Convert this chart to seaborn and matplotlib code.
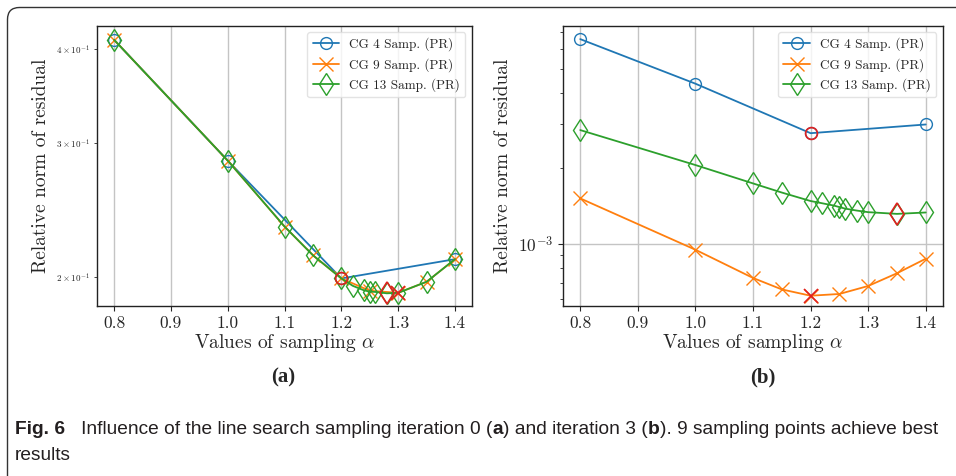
import matplotlib
matplotlib.use("Agg")
import matplotlib.pyplot as plt
import numpy as np
import pandas as pd
import seaborn as sns
from matplotlib.patches import FancyBboxPatch

# ===== Data =====
alpha_4 = [0.8, 1.0, 1.2, 1.4]
alpha_9 = [0.8, 1.0, 1.1, 1.15, 1.2, 1.25, 1.3, 1.35, 1.4]
alpha_13 = [0.8, 1.0, 1.1, 1.15, 1.2, 1.22, 1.24, 1.25, 1.26, 1.28, 1.3, 1.35, 1.4]

# (a) iteration 0
res_a_4 = [0.411, 0.2847, 0.199, 0.211]
res_a_9 = [0.411, 0.2847, 0.233, 0.2135, 0.199, 0.1917, 0.1905, 0.197, 0.211]
res_a_13 = [0.411, 0.2847, 0.233, 0.2135, 0.199, 0.1946, 0.1919, 0.1912, 0.191,
            0.1902, 0.1905, 0.197, 0.211]

# (b) iteration 3
res_b_4 = [6.55e-3, 4.35e-3, 2.76e-3, 2.99e-3]
res_b_9 = [1.516e-3, 0.946e-3, 0.730e-3, 0.657e-3, 0.620e-3, 0.630e-3, 0.678e-3,
           0.762e-3, 0.871e-3]
res_b_13 = [2.84e-3, 2.06e-3, 1.74e-3, 1.60e-3, 1.48e-3, 1.45e-3, 1.42e-3, 1.40e-3,
            1.38e-3, 1.356e-3, 1.336e-3, 1.315e-3, 1.332e-3]

labels = ["CG 4 Samp. (PR)", "CG 9 Samp. (PR)", "CG 13 Samp. (PR)"]
xtick_vals = [0.8, 0.9, 1.0, 1.1, 1.2, 1.3, 1.4]

# ===== Style =====
sns.set_theme(style="ticks")
plt.rcParams["font.family"] = ["cmr10", "DejaVu Serif"]
plt.rcParams["mathtext.fontset"] = "cm"
plt.rcParams["axes.formatter.use_mathtext"] = True
plt.rcParams["axes.unicode_minus"] = False

colors = ["#1f77b4", "#ff7f0e", "#2ca02c"]
markers = ["o", "x", "d"]
msizes = [8.5, 9.5, 11.5]
red = "#e0201f"

fig = plt.figure(figsize=(9.56, 4.76), dpi=100)
ax_a = fig.add_axes([0.1015, 0.3571, 0.3923, 0.5889])
ax_b = fig.add_axes([0.5889, 0.3571, 0.3975, 0.5889])


def draw_panel(ax, series, ylim):
    for (xs, ys), lab, col, mk, ms in zip(series, labels, colors, markers, msizes):
        df = pd.DataFrame({"alpha": xs, "res": ys})
        sns.lineplot(data=df, x="alpha", y="res", ax=ax, color=col, marker=mk,
                     markersize=ms, fillstyle="none", markeredgecolor=col,
                     markeredgewidth=1.0, linewidth=1.3, label=lab)
    # best point of each series in red
    for (xs, ys), mk, ms in zip(series, markers, msizes):
        i = int(np.argmin(ys))
        ax.plot([xs[i]], [ys[i]], marker=mk, markersize=ms, fillstyle="none",
                markeredgecolor=red, markeredgewidth=1.2, linestyle="none", zorder=5)
    ax.set_yscale("log")
    ax.set_xlim(0.77, 1.43)
    ax.set_ylim(*ylim)
    ax.set_xticks(xtick_vals)
    ax.set_xticklabels([f"{v:.1f}" for v in xtick_vals])
    ax.grid(True, which="major", color="#c4c4c4", linewidth=1.0)
    ax.set_axisbelow(True)
    ax.set_xlabel(r"Values of sampling $\alpha$", fontsize=14, labelpad=1)
    ax.set_ylabel("Relative norm of residual", fontsize=14)
    ax.tick_params(axis="x", labelsize=12.5, length=3.5, width=0.8)
    ax.tick_params(axis="y", which="major", labelsize=12.5, length=3.5, width=0.8)
    ax.tick_params(axis="y", which="minor", labelsize=6.5, length=2, width=0.6)
    for sp in ax.spines.values():
        sp.set_color("#222222")
        sp.set_linewidth(1.0)
    ax.legend(loc="upper right", fontsize=9.5, frameon=True, edgecolor="#dddddd",
              handlelength=2.0)


draw_panel(ax_a, [(alpha_4, res_a_4), (alpha_9, res_a_9), (alpha_13, res_a_13)],
           (0.183, 0.429))
draw_panel(ax_b, [(alpha_4, res_b_4), (alpha_9, res_b_9), (alpha_13, res_b_13)],
           (5.64e-4, 7.41e-3))

# ===== Panel tags =====
fig.text(283 / 956, 1 - 377 / 476, "(a)", ha="center", va="center", fontsize=15,
         fontweight="bold", family="Liberation Serif")
fig.text(763 / 956, 1 - 377 / 476, "(b)", ha="center", va="center", fontsize=15,
         fontweight="bold", family="Liberation Serif")

# ===== Caption =====
cap_fam = ["Liberation Sans"]
cap_col = "#231f20"
pieces = [("Fig. 6", "bold"), ("   Influence of the line search sampling iteration 0 (", "normal"),
          ("a", "bold"), (") and iteration 3 (", "normal"), ("b", "bold"),
          ("). 9 sampling points achieve best", "normal")]
fig.canvas.draw()
renderer = fig.canvas.get_renderer()
x_px = 15
y_line1 = 1 - 430 / 476
for txt, wt in pieces:
    t = fig.text(x_px / 956, y_line1, txt, ha="left", va="center", fontsize=13.8,
                 fontweight=wt, family=cap_fam, color=cap_col)
    x_px += t.get_window_extent(renderer).width
fig.text(15 / 956, 1 - 456 / 476, "results", ha="left", va="center", fontsize=13.8,
         family=cap_fam, color=cap_col)

# ===== Frame =====
frame = FancyBboxPatch((0.075, -0.3), 10.0, 4.685 + 0.3,
                       boxstyle="round,pad=0,rounding_size=0.12",
                       transform=fig.dpi_scale_trans, fill=False,
                       edgecolor="#333333", linewidth=1.0, clip_on=False)
fig.patches.append(frame)

fig.savefig("out.png", dpi=100)
